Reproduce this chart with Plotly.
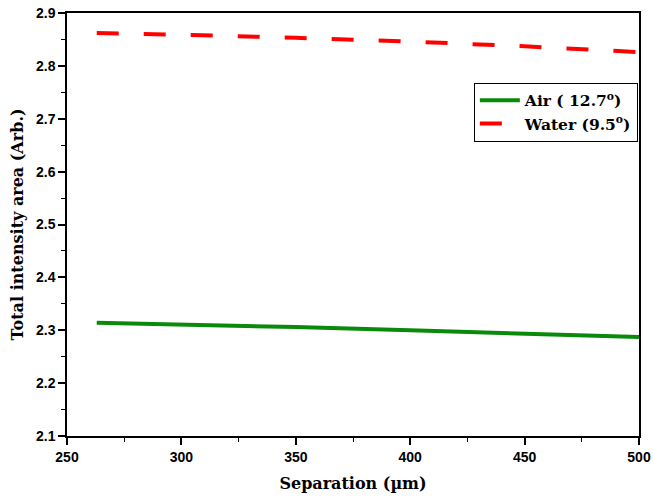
import plotly.graph_objects as go

# Separation (µm) and total intensity area for each medium
separation = [263, 300, 350, 400, 450, 500]
air_area = [2.314, 2.311, 2.306, 2.300, 2.293, 2.287]
water_area = [2.862, 2.859, 2.853, 2.846, 2.837, 2.826]

air_name = "Air ( 12.7<sup>o</sup>)"
water_name = "Water (9.5<sup>o</sup>)"

x_ticks = [250, 300, 350, 400, 450, 500]
y_ticks = [2.1, 2.2, 2.3, 2.4, 2.5, 2.6, 2.7, 2.8, 2.9]

fig = go.Figure()
fig.add_trace(go.Scatter(
    x=separation, y=air_area, mode="lines", name=air_name,
    line=dict(color="#0a8a0a", width=4),
))
fig.add_trace(go.Scatter(
    x=separation, y=water_area, mode="lines", name=water_name,
    line=dict(color="#ff0000", width=4, dash="22px,25px"),
))

tick_font = dict(family="Liberation Sans, Arial", size=14, color="black", weight="bold")
title_font = dict(family="DejaVu Serif", size=16, color="black", weight="bold")

fig.update_layout(
    width=654, height=501,
    margin=dict(l=67, r=15, t=13, b=65),
    paper_bgcolor="white", plot_bgcolor="white",
    showlegend=True,
    legend=dict(
        x=0.998, y=0.835, xanchor="right", yanchor="top",
        bordercolor="black", borderwidth=1, bgcolor="white",
        font=dict(family="DejaVu Serif", size=15.5, color="black", weight="bold"),
        tracegroupgap=0, itemwidth=40,
    ),
    xaxis=dict(
        range=[250, 500], tickvals=x_ticks, showgrid=False, zeroline=False,
        automargin=False,
        showline=True, linecolor="black", linewidth=1.5, mirror=True,
        ticks="outside", ticklen=7, tickwidth=1.5, tickcolor="black",
        minor=dict(ticks="outside", ticklen=4, tickwidth=1, dtick=25, tick0=250, tickcolor="black"),
        tickfont=tick_font,
        title=dict(text="Separation (µm)", font=title_font, standoff=14),
    ),
    yaxis=dict(
        range=[2.1, 2.9], tickvals=y_ticks, tickformat=".1f", showgrid=False, zeroline=False,
        automargin=False,
        showline=True, linecolor="black", linewidth=1.5, mirror=True,
        ticks="outside", ticklen=7, tickwidth=1.5, tickcolor="black",
        minor=dict(ticks="outside", ticklen=4, tickwidth=1, dtick=0.05, tick0=2.1, tickcolor="black"),
        tickfont=tick_font,
        title=dict(text="Total intensity area (Arb.)", font=title_font, standoff=8),
    ),
)

fig.write_html("out.html")
